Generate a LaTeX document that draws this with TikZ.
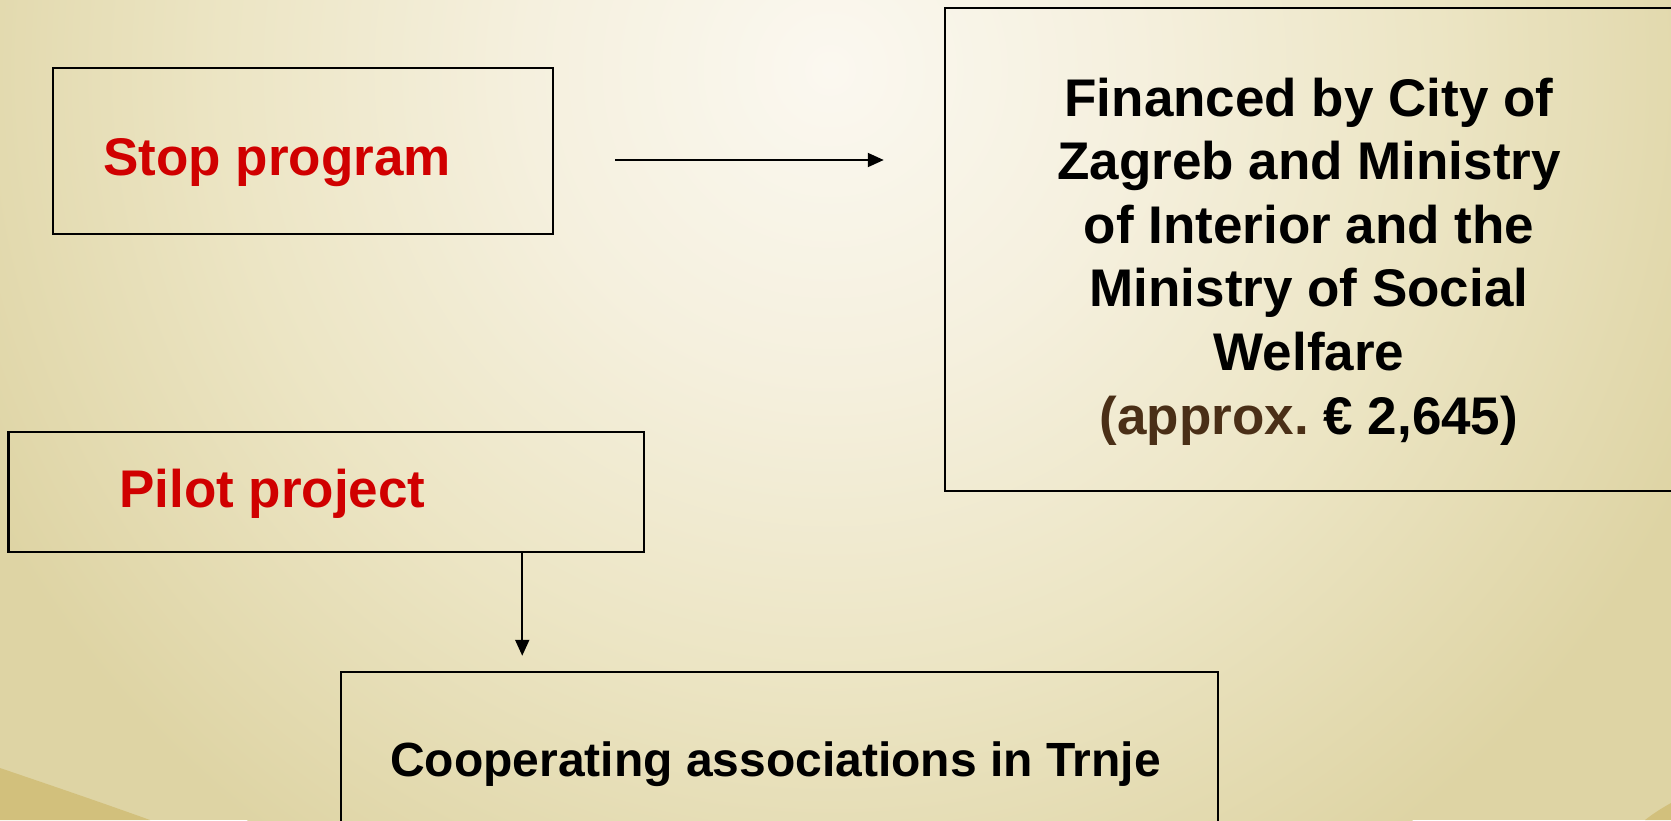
\documentclass[tikz,border=0pt]{standalone}
\usepackage{fontspec}
\setmainfont{Liberation Sans}
\usetikzlibrary{arrows.meta}
\definecolor{bgout}{RGB}{222,212,164}
\definecolor{bgmid}{RGB}{236,229,196}
\definecolor{bglite}{RGB}{245,240,222}
\definecolor{bgin}{RGB}{251,248,240}
\definecolor{swoosh}{RGB}{210,192,124}
\definecolor{redtxt}{RGB}{208,0,0}
\definecolor{browntxt}{RGB}{74,47,23}
\pgfdeclareradialshading{bgshade}{\pgfpoint{0bp}{0bp}}{color(0bp)=(bgin); color(8bp)=(bglite); color(16bp)=(bgmid); color(25bp)=(bgout); color(50bp)=(bgout)}
\tikzset{
  box/.style={draw=black, line width=2.5pt, rectangle, inner sep=0pt},
  txt/.style={font=\bfseries\fontsize{53}{63.6}\selectfont, inner sep=0pt},
  smalltxt/.style={font=\bfseries\fontsize{48}{57.6}\selectfont, inner sep=0pt},
  conn/.style={draw=black, line width=2pt, -{Triangle[length=16pt,width=14pt]}}
}
\begin{document}
\frenchspacing
\begin{tikzpicture}[x=1pt,y=-1pt]
\useasboundingbox (0,0) rectangle (1671,820);
\clip (0,0) rectangle (1671,820);
% background
\fill[bgout] (0,0) rectangle (1671,820);
\shade[shading=bgshade] (830,70) circle (950);
\fill[swoosh] (0,768) .. controls (50,785) and (100,802) .. (150,820) -- (0,820) -- cycle;
\fill[swoosh] (1645,820) .. controls (1654,813) and (1662,808) .. (1671,803) -- (1671,820) -- cycle;
% boxes
\node[box, minimum width=500pt, minimum height=166pt] (stop) at (303,151) {};
\node[box, minimum width=730pt, minimum height=483pt] (fin) at (1310,249.5) {};
\node[box, minimum width=635.5pt, minimum height=120pt] (pilot) at (326.25,492) {};
\node[box, minimum width=877pt, minimum height=170pt] (coop) at (779.5,757) {};
% texts
\node[txt, text=redtxt, anchor=base west] (stopT) at (103,175) {Stop program};
\node[txt, text=redtxt, anchor=base west] (pilotT) at (119,507) {Pilot project};
\node[smalltxt, anchor=base] (coopT) at (775.5,776) {Cooperating associations in Trnje};
\node[txt, anchor=base, align=center] (finT) at (1309,434) {Financed by City of\\Zagreb and Ministry\\of Interior and the\\Ministry of Social\\Welfare\\{\color{browntxt}(approx.}\ € 2,645)};
% connectors
\draw[conn, shorten <=61pt, shorten >=60pt] ([yshift=-9pt]stop.east) -- ([yshift=-9pt]stop.east -| fin.west);
\draw[conn, shorten >=15pt] ([xshift=196pt]pilot.south) -- ([xshift=196pt]pilot.south |- coop.north);
\end{tikzpicture}
\end{document}
